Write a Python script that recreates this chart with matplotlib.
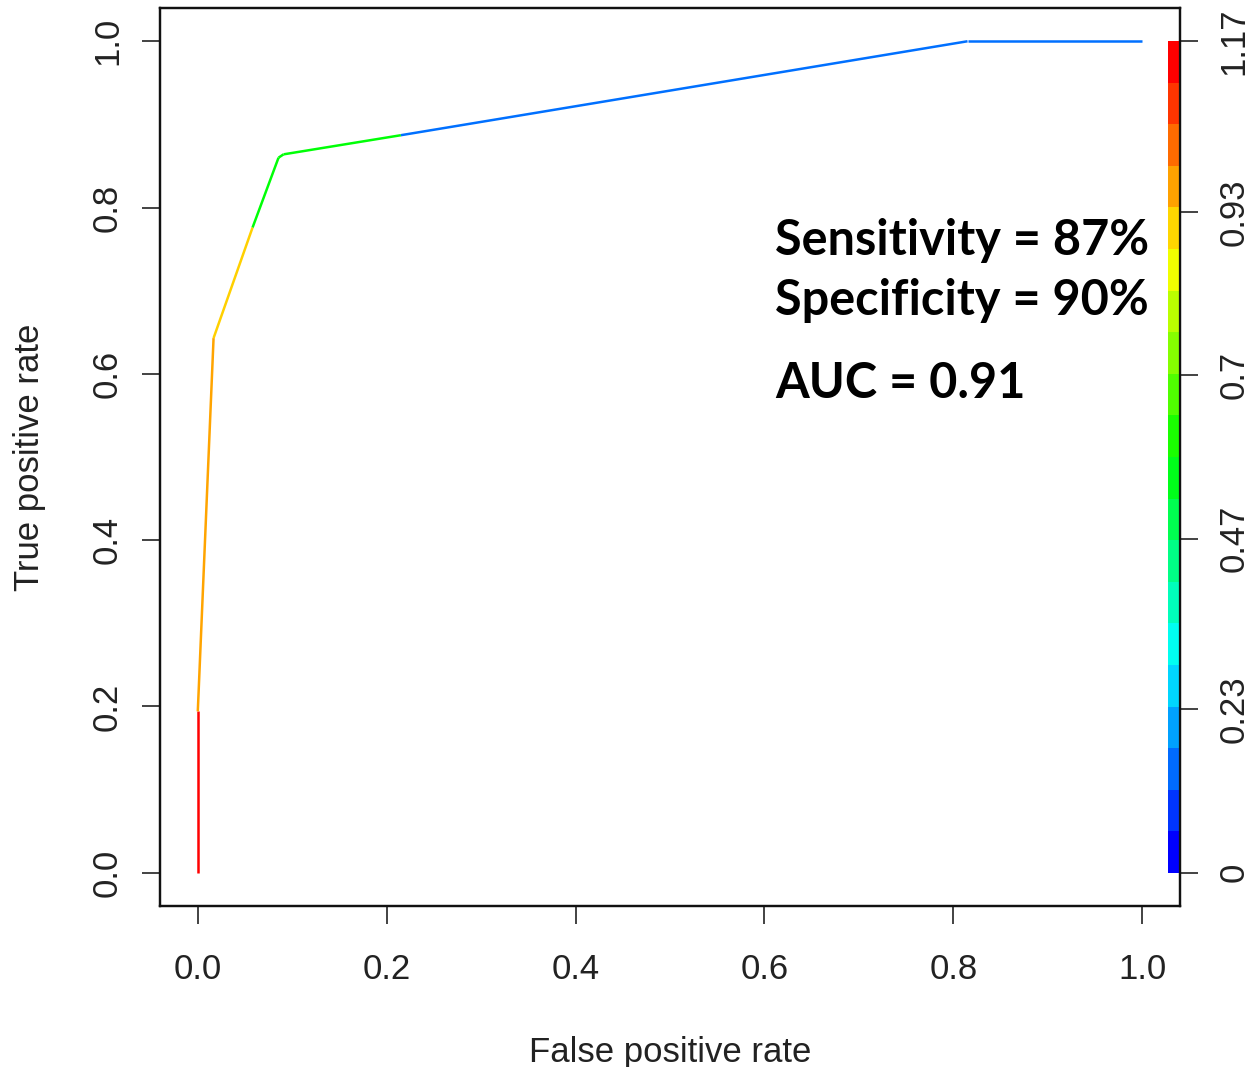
import matplotlib
matplotlib.use('Agg')
import matplotlib.pyplot as plt
import numpy as np
from matplotlib.collections import LineCollection
from matplotlib.colors import hsv_to_rgb, ListedColormap, Normalize

# ROC curve points
fpr = [0.0, 0.0, 0.0167, 0.058, 0.0855, 0.0908, 0.215, 0.815, 1.0]
tpr = [0.0, 0.194, 0.643, 0.776, 0.860, 0.864, 0.887, 1.0, 1.0]
# cutoff value used to colour each segment (one less than points)
cutoffs = [1.17, 0.98, 0.93, 0.58, 0.58, 0.58, 0.13, 0.13]

key_ticks = [0, 0.23, 0.47, 0.7, 0.93, 1.17]
key_labels = ['0', '0.23', '0.47', '0.7', '0.93', '1.17']
cut_max = 1.17

stats = ['Sensitivity = 87%', 'Specificity = 90%', 'AUC = 0.91']


def rainbow(n):
    # R rainbow(start=0, end=4/6), blue at the low end, red at the top
    h = np.linspace(4/6, 0, n)
    return hsv_to_rgb(np.column_stack([h, np.ones(n), np.ones(n)]))


key_cmap = ListedColormap(rainbow(20))
line_cmap = ListedColormap(rainbow(256))
norm = Normalize(0, cut_max)

plt.rcParams['font.family'] = ['Liberation Sans Narrow', 'Liberation Sans', 'DejaVu Sans']
txt = '#222222'

fig = plt.figure(figsize=(12.54, 10.67), dpi=100)
ax = fig.add_axes([0.1276, 0.1509, 0.8134, 0.8416])

pts = np.column_stack([fpr, tpr])
segs = np.stack([pts[:-1], pts[1:]], axis=1)
lc = LineCollection(segs, colors=line_cmap(norm(np.array(cutoffs))), linewidths=1.8)
ax.add_collection(lc)

ax.set_xlim(-0.04, 1.04)
ax.set_ylim(-0.04, 1.04)

# colour key on the right edge
grad = np.linspace(0, 1, 20).reshape(-1, 1)
ax.imshow(grad, cmap=key_cmap, aspect='auto', origin='lower',
          extent=[1.0275, 1.0385, 0, 1], zorder=3)

ax.set_xticks([0, 0.2, 0.4, 0.6, 0.8, 1.0])
ax.set_xticklabels(['0.0', '0.2', '0.4', '0.6', '0.8', '1.0'])
ax.set_yticks([0, 0.2, 0.4, 0.6, 0.8, 1.0])
ax.set_yticklabels(['0.0', '0.2', '0.4', '0.6', '0.8', '1.0'], rotation=90, va='center')
ax.tick_params(length=13, width=1.2, labelsize=25, colors=txt)
ax.tick_params(axis='x', pad=21)
ax.tick_params(axis='y', pad=13)

ax2 = ax.twinx()
ax2.set_ylim(ax.get_ylim())
ax2.set_yticks([v / cut_max for v in key_ticks])
ax2.set_yticklabels(key_labels, rotation=90, va='center')
ax2.tick_params(length=13, width=1.2, pad=14, labelsize=25, colors=txt)

for a in (ax, ax2):
    for s in a.spines.values():
        s.set_linewidth(1.6)
        s.set_color('#111111')

ax.set_xlabel('False positive rate', fontsize=25, color=txt, labelpad=36)
ax.set_ylabel('True positive rate', fontsize=25, color=txt, labelpad=32)

ys = [0.743, 0.671, 0.571]
for t, y in zip(stats, ys):
    ax.text(0.611, y, t, fontsize=35, fontweight='bold', family=['Lato', 'DejaVu Sans'],
            color='black', ha='left', va='baseline')

fig.savefig('out.png', dpi=100)
